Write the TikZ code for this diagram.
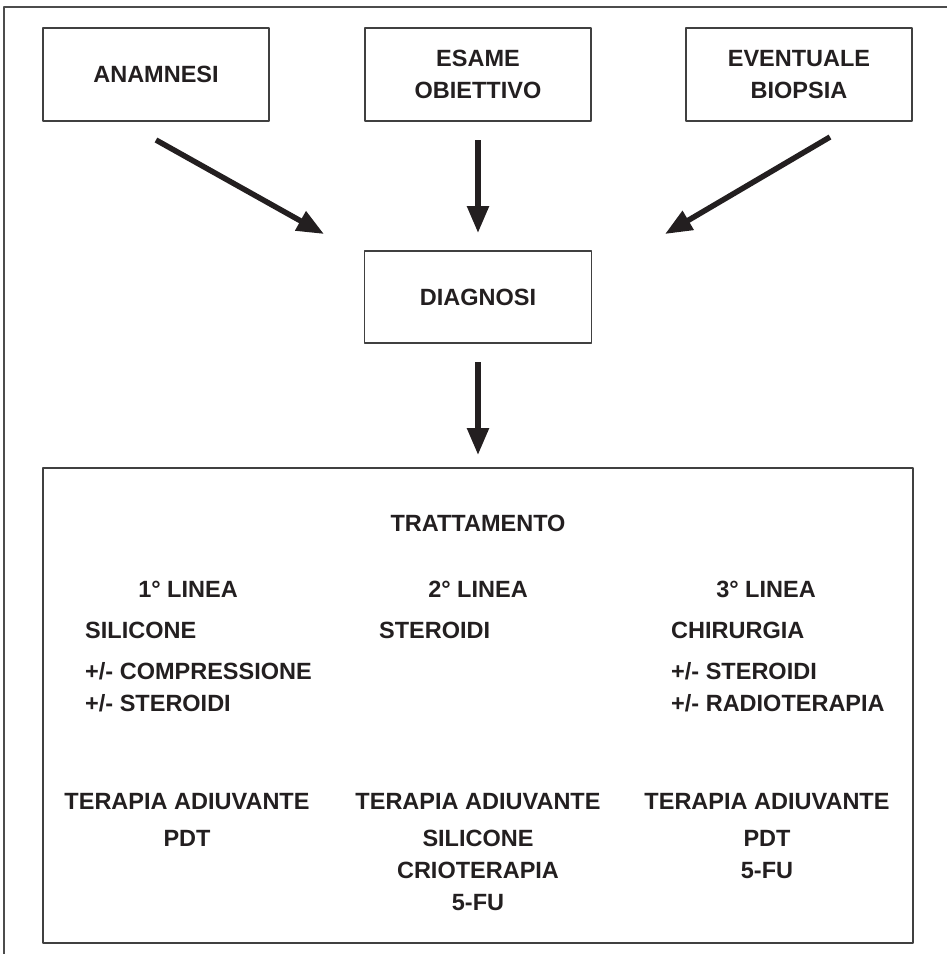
\documentclass[tikz,border=0pt]{standalone}
\usepackage{fontspec}
\setmainfont{Liberation Sans}
\usetikzlibrary{arrows.meta}
\definecolor{inchiostro}{RGB}{35,31,32}
\begin{document}
\begin{tikzpicture}[x=1pt,y=-1pt,font=\fontsize{23.5}{32}\selectfont\bfseries,line join=round,
	box/.style={draw=black!75,line width=1.2pt,minimum width=226pt,minimum height=93pt,
		align=center,text=inchiostro,inner sep=0pt},
	txt/.style={text=inchiostro,inner sep=0pt,text height=17pt,text depth=0pt},
	freccia/.style={draw=inchiostro,line width=5.5pt,-{Triangle[length=27pt,width=21pt]}}]
	\useasboundingbox (0,0) rectangle (947,954);
	% cornice esterna
	\draw[black!70,line width=1.3pt] (4,954)--(4,7)--(947,7);
	% riquadri in alto
	\node[box] (ana) at (156,74.5) {ANAMNESI};
	\node[box] (esame) at (478,74.5) {ESAME\\OBIETTIVO};
	\node[box] (biopsia) at (799,74.5) {EVENTUALE\\BIOPSIA};
	\node[box,minimum width=227pt,minimum height=92pt] (diag) at (478,297) {DIAGNOSI};
	% riquadro del trattamento
	\node[draw=black!75,line width=1.2pt,minimum width=870pt,minimum height=475pt] (cura) at (478,705.5) {};
	% estremi delle frecce
	\path (156,140) coordinate (p1)
	(324,234) coordinate (q1)
	(478,140) coordinate (p2)
	(478,233) coordinate (q2)
	(830,137) coordinate (p3)
	(665,234) coordinate (q3)
	(478,362) coordinate (p4)
	(478,455) coordinate (q4)
	;
	\foreach \i in {1,2,3,4}
	\draw[freccia] (p\i)--(q\i);
	% testo del trattamento
	\node[txt] (titolo) at (478,523) {TRATTAMENTO};
	\foreach \cx/\n in {188/1,478/2,766/3}
	\node[txt] (linea\n) at (\cx,589) {\n° LINEA};
	\node[txt,anchor=west] (sil) at (85,630) {SILICONE};
	\node[txt,anchor=west] (comp) at (85,671) {+/- COMPRESSIONE};
	\node[txt,anchor=west] (ster1) at (85,703) {+/- STEROIDI};
	\node[txt,anchor=west] (ster2) at (379,630) {STEROIDI};
	\node[txt,anchor=west] (chir) at (671,630) {CHIRURGIA};
	\node[txt,anchor=west] (ster3) at (671,671) {+/- STEROIDI};
	\node[txt,anchor=west] (radio) at (671,703) {+/- RADIOTERAPIA};
	% terapia adiuvante
	\foreach \cx/\n in {187/1,478/2,767/3}
	\node[txt] (adiu\n) at (\cx,801) {TERAPIA ADIUVANTE};
	\node[txt] (pdt1) at (187,838) {PDT};
	\node[txt] (sil2) at (478,838) {SILICONE};
	\node[txt] (crio) at (478,870) {CRIOTERAPIA};
	\node[txt] (fu2) at (478,902) {5-FU};
	\node[txt] (pdt3) at (767,838) {PDT};
	\node[txt] (fu3) at (767,870) {5-FU};
\end{tikzpicture}
\end{document}
